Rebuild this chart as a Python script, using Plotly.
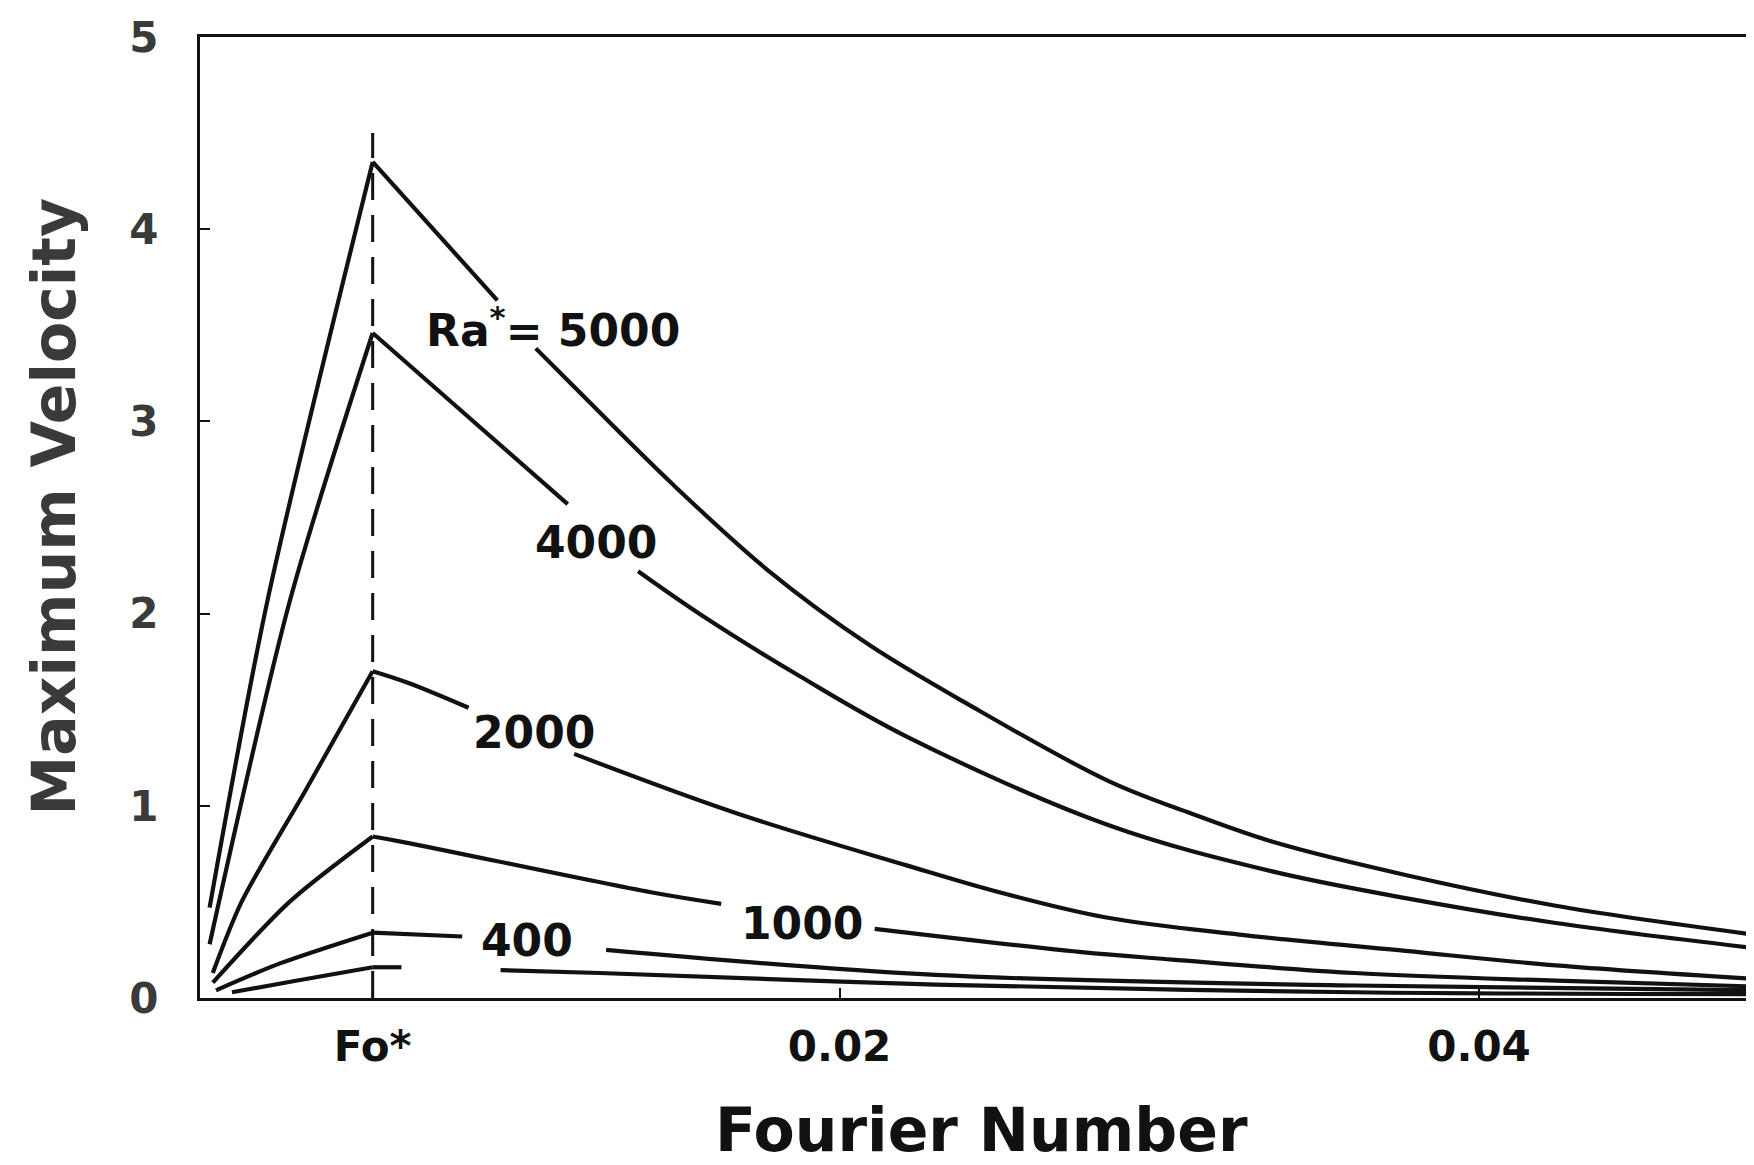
import plotly.graph_objects as go

# ---------------- data ----------------
FO_STAR = 0.0054          # critical Fourier number (dashed line)
DASH_TOP = 4.5            # top of the dashed Fo* marker

x_ticks = [FO_STAR, 0.02, 0.04]
x_tick_labels = ["Fo*", "0.02", "0.04"]
y_ticks = [0, 1, 2, 3, 4, 5]
y_tick_labels = ["0", "1", "2", "3", "4", "5"]

# None = gap in the drawn curve (where a label sits)
fo_5000 = [0.0003, 0.0021, 0.0054, 0.0093, None, 0.0105, 0.0117, 0.0148, 0.0178, 0.0209, 0.0240,
           0.0284, 0.0310, 0.0336, 0.0377, 0.0424, 0.0486]
v_5000 = [0.47, 2.06, 4.35, 3.63, None, 3.38, 3.18, 2.67, 2.22, 1.84, 1.53,
          1.13, 0.96, 0.81, 0.64, 0.48, 0.33]

fo_4000 = [0.0003, 0.0028, 0.0054, 0.0115, None, 0.0137, 0.0157, 0.0188, 0.0221, 0.0284, 0.0335,
           0.0377, 0.0424, 0.0486]
v_4000 = [0.28, 2.06, 3.46, 2.57, None, 2.22, 1.99, 1.67, 1.36, 0.90, 0.66,
          0.52, 0.39, 0.26]

fo_2000 = [0.0004, 0.0013, 0.0033, 0.0054, 0.0065, 0.0084, None, 0.0117, 0.0168, 0.0221, 0.0250,
           0.0283, 0.0325, 0.0377, 0.0424, 0.0486]
v_2000 = [0.13, 0.50, 1.08, 1.70, 1.64, 1.51, None, 1.27, 0.96, 0.69, 0.55,
          0.42, 0.33, 0.245, 0.17, 0.10]

fo_1000 = [0.0004, 0.0028, 0.0054, 0.0064, 0.0141, 0.0163, None, 0.0211, 0.0275, 0.0304, 0.0361,
           0.0424, 0.0486]
v_1000 = [0.08, 0.50, 0.84, 0.81, 0.55, 0.49, None, 0.36, 0.24, 0.20, 0.13,
          0.09, 0.06]

fo_400 = [0.0005, 0.0025, 0.0054, 0.0082, None, 0.0127, 0.0230, 0.0361, 0.0486]
v_400 = [0.04, 0.18, 0.34, 0.32, None, 0.25, 0.12, 0.065, 0.04]

fo_low = [0.0010, 0.0030, 0.0054, 0.0063, None, 0.0094, 0.0125, 0.0230, 0.0361, 0.0486]
v_low = [0.03, 0.09, 0.16, 0.16, None, 0.145, 0.13, 0.07, 0.03, 0.02]

curve_names = ["5000", "4000", "2000", "1000", "400", "unlabeled"]
curve_x = [fo_5000, fo_4000, fo_2000, fo_1000, fo_400, fo_low]
curve_y = [v_5000, v_4000, v_2000, v_1000, v_400, v_low]

label_texts = ["Ra<sup>*</sup>= 5000", "4000", "2000", "1000", "400"]

# ---------------- style / placement ----------------
label_pos = [(0.01105, 3.49), (0.01237, 2.37), (0.01045, 1.38), (0.01884, 0.39), (0.01023, 0.30)]
INK = "#111111"
GREY = "#3a3a3a"
FONT = "DejaVu Sans"
LW = 4.2

fig = go.Figure()

fig.add_trace(go.Scatter(
    x=[FO_STAR, FO_STAR], y=[0, DASH_TOP], mode="lines",
    line=dict(color=INK, width=3, dash="27px,15px"), showlegend=False, hoverinfo="skip"))

for name, xs, ys in zip(curve_names, curve_x, curve_y):
    # the peak (at Fo*) splits each curve into a rising and a decaying branch
    k = xs.index(FO_STAR)
    fig.add_trace(go.Scatter(
        x=xs[:k + 1], y=ys[:k + 1], mode="lines", name=name + " rise",
        line=dict(color=INK, width=LW, shape="spline", smoothing=0.8), showlegend=False))
    fig.add_trace(go.Scatter(
        x=xs[k:], y=ys[k:], mode="lines", name=name + " decay", connectgaps=False,
        line=dict(color=INK, width=LW, shape="spline", smoothing=1.0), showlegend=False))

for txt, (lx, ly) in zip(label_texts, label_pos):
    fig.add_annotation(x=lx, y=ly, xref="x", yref="y", text=txt, showarrow=False,
                       font=dict(family=FONT, size=44, color=INK, weight="bold"),
                       xanchor="center", yanchor="middle")

# axis titles
fig.add_annotation(x=0, y=0.5, xref="paper", yref="paper", text="Maximum Velocity",
                   textangle=-90, showarrow=False, xshift=-147, yshift=11,
                   font=dict(family=FONT, size=60, color=GREY, weight="bold"),
                   xanchor="center", yanchor="middle")
fig.add_annotation(x=0.5, y=0, xref="paper", yref="paper", text="Fourier Number",
                   showarrow=False, xshift=4, yshift=-132,
                   font=dict(family=FONT, size=60, color=INK, weight="bold"),
                   xanchor="center", yanchor="middle")

fig.update_xaxes(range=[0, 0.0486], showline=True, mirror=True, linecolor=INK, linewidth=3,
                 showgrid=False, zeroline=False, ticks="inside", ticklen=10, tickwidth=2,
                 tickcolor=INK, tickvals=x_ticks, ticktext=x_tick_labels,
                 tickfont=dict(family=FONT, size=42, color=INK, weight="bold"),
                 ticklabelstandoff=10)
fig.update_yaxes(range=[0, 5], showline=True, mirror=True, linecolor=INK, linewidth=3,
                 showgrid=False, zeroline=False, ticks="inside", ticklen=10, tickwidth=2,
                 tickcolor=INK, tickvals=y_ticks, ticktext=y_tick_labels,
                 tickfont=dict(family=FONT, size=42, color=GREY, weight="bold"),
                 ticklabelstandoff=30)

fig.update_layout(width=1754, height=1165, margin=dict(l=192, r=5, t=28, b=175),
                  plot_bgcolor="white", paper_bgcolor="white", showlegend=False)

fig.write_html("out.html", config={"displayModeBar": False})
